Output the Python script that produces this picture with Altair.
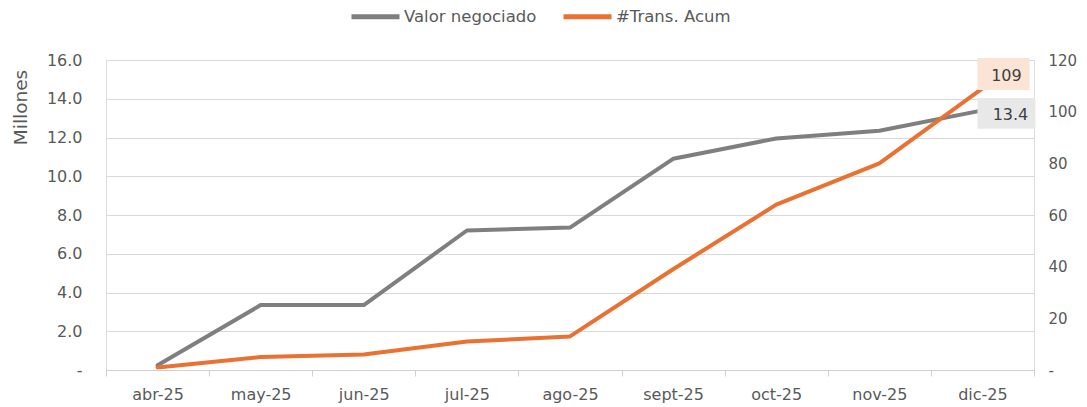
import altair as alt
import pandas as pd

months = ["abr-25", "may-25", "jun-25", "jul-25", "ago-25", "sept-25", "oct-25", "nov-25", "dic-25"]
valor = [0.25, 3.35, 3.35, 7.2, 7.35, 10.9, 11.95, 12.35, 13.4]
trans = [1, 5, 6, 11, 13, 39, 64, 80, 109]
series = ["Valor negociado", "#Trans. Acum"]
colors = ["#7F7F7F", "#E97132"]

df = pd.DataFrame({"mes": months, "valor": valor, "trans": trans})
last = df.iloc[[-1]]

FONT = "DejaVu Sans"
TXT = "#595959"

x = alt.X("mes:N", sort=months, title=None,
          axis=alt.Axis(labelAngle=0, tickBand="extent", tickSize=6, labelPadding=10,
                        labelFontSize=16, labelColor=TXT, labelFont=FONT,
                        domainColor="#D0D0D0", tickColor="#D0D0D0", grid=False),
          scale=alt.Scale(paddingInner=0, paddingOuter=0))

cscale = alt.Scale(domain=series, range=colors)
clegend = alt.Legend(title=None, orient="none", legendX=243, legendY=-70,
                     direction="horizontal", symbolType="stroke",
                     symbolStrokeWidth=5, symbolSize=2304, labelFontSize=16.5,
                     labelFont=FONT, labelColor=TXT, columnPadding=16,
                     labelOffset=2)
color = alt.Color("s:N", scale=cscale, legend=clegend)

yl = alt.Y("valor:Q", title="Millones",
           scale=alt.Scale(domain=[0, 16], nice=False),
           axis=alt.Axis(values=list(range(0, 17, 2)), domain=False, ticks=False,
                         labelExpr="datum.value == 0 ? '-' : format(datum.value, '.1f')",
                         labelPadding=24, labelFontSize=16, labelColor=TXT, labelFont=FONT,
                         gridColor="#D9D9D9", titleFont=FONT, titleFontSize=18.5,
                         titleColor=TXT, titleFontWeight="normal", titleAngle=-90,
                         titleX=-86, titleY=47, titleAlign="center", titleBaseline="middle"))

yr = alt.Y("trans:Q", title=None,
           scale=alt.Scale(domain=[0, 120], nice=False),
           axis=alt.Axis(orient="right", values=list(range(0, 121, 20)), domain=False,
                         ticks=False, grid=False,
                         labelExpr="datum.value == 0 ? '-' : format(datum.value, 'd')",
                         labelPadding=14, labelFontSize=15, labelColor=TXT, labelFont=FONT))

line_l = alt.Chart(df).transform_calculate(s=f"'{series[0]}'").mark_line(
    strokeWidth=4, strokeCap="round", strokeJoin="round").encode(x=x, y=yl, color=color)
box_l = alt.Chart(last).mark_point(shape="M-1,-0.534H1V0.534H-1Z", size=3364, filled=True,
                                   opacity=1, color="#E8E8E8", xOffset=24, yOffset=3).encode(x=x, y=yl)
txt_l = alt.Chart(last).mark_text(font=FONT, fontSize=16, color="#404040", dx=28, dy=4.5).encode(
    x=x, y=yl, text=alt.Text("valor:Q", format=".1f"))

line_r = alt.Chart(df).transform_calculate(s=f"'{series[1]}'").mark_line(
    strokeWidth=4, strokeCap="round", strokeJoin="round").encode(x=x, y=yr, color=color)
box_r = alt.Chart(last).mark_point(shape="M-1,-0.615H1V0.615H-1Z", size=2704, filled=True,
                                   opacity=1, color="#FBE3D6", xOffset=21, yOffset=-14.4).encode(x=x, y=yr)
txt_r = alt.Chart(last).mark_text(font=FONT, fontSize=16, color="#404040", dx=24, dy=-12.5).encode(
    x=x, y=yr, text=alt.Text("trans:Q", format="d"))

left = alt.layer(line_l, box_l, txt_l)
right = alt.layer(line_r, box_r, txt_r)

chart = alt.layer(left, right).resolve_scale(y="independent").properties(
    width=928, height=310,
    padding={"left": 98, "top": 52, "right": 45, "bottom": 34},
    autosize=alt.AutoSizeParams(type="none"),
).configure_view(stroke=None).configure(font=FONT)

chart.save("out.html", embed_options={"renderer": "svg", "actions": False})
